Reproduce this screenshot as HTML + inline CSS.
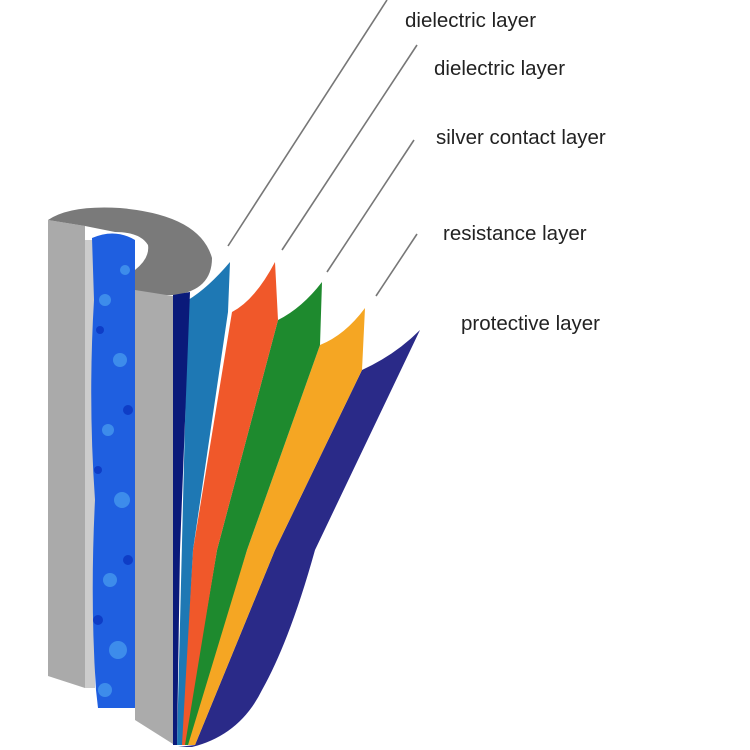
<!DOCTYPE html>
<html><head><meta charset="utf-8"><style>
html,body{margin:0;padding:0;background:#fff;}
svg{display:block}
text{font-family:"Liberation Sans","DejaVu Sans",sans-serif;font-size:20.5px;fill:#222;}
</style></head><body>
<svg width="750" height="750" viewBox="0 0 750 750" xmlns="http://www.w3.org/2000/svg">
<rect width="750" height="750" fill="#fff"/>
<g stroke="#777" stroke-width="1.6" fill="none">
<line x1="228" y1="246" x2="387" y2="0"/>
<line x1="282" y1="250" x2="417" y2="45"/>
<line x1="327" y1="272" x2="414" y2="140"/>
<line x1="376" y1="296" x2="417" y2="234"/>
</g>
<polygon points="48,220 85,226 85,688 48,676" fill="#aaa"/>
<rect x="85" y="240" width="10" height="448" fill="#ccc"/>
<path d="M92,238 Q115,228 135,240 L135,708 L98,708 L96,690 Q90,600 95,500 Q88,400 94,300 Z" fill="#1f5fe0"/>
<g fill="#4aa0f0" opacity="0.7">
<circle cx="105" cy="300" r="6"/><circle cx="120" cy="360" r="7"/><circle cx="108" cy="430" r="6"/>
<circle cx="122" cy="500" r="8"/><circle cx="110" cy="580" r="7"/><circle cx="118" cy="650" r="9"/>
<circle cx="105" cy="690" r="7"/><circle cx="125" cy="270" r="5"/>
</g>
<g fill="#0a35c0" opacity="0.8">
<circle cx="100" cy="330" r="4"/><circle cx="128" cy="410" r="5"/><circle cx="98" cy="470" r="4"/>
<circle cx="128" cy="560" r="5"/><circle cx="98" cy="620" r="5"/>
</g>
<path d="M48,220 Q70,205 120,208 Q200,215 212,258 Q212,290 175,295 L135,295 L135,270 Q150,258 148,245 Q140,232 115,232 L85,226 Z" fill="#7a7a7a"/>
<path d="M362,370 Q395,355 420,330 L315,550 Q290,640 262,690 Q240,735 192,747 L178,747 L195,745 L275,550 Z" fill="#2a2a88"/>
<path d="M320,345 Q345,335 365,308 L362,370 L275,550 L195,745 L186,745 L247,550 Z" fill="#f5a623"/>
<path d="M278,320 Q302,308 322,282 L320,345 L247,550 L188,745 L184,745 L217,550 Z" fill="#1e8a2e"/>
<path d="M232,312 Q255,300 275,262 L278,320 L217,550 L185,745 L181,745 L193,550 Z" fill="#f0582a"/>
<path d="M188,300 Q208,288 230,262 L228,312 L193,550 L182,745 L177,745 Z" fill="#1e78b4"/>
<polygon points="173,295 190,292 180,550 177,745 173,745" fill="#0a1a7a"/>
<polygon points="135,290 173,296 173,744 135,720" fill="#ababab"/>
<text x="405" y="27">dielectric layer</text>
<text x="434" y="75">dielectric layer</text>
<text x="436" y="144">silver contact layer</text>
<text x="443" y="240">resistance layer</text>
<text x="461" y="330">protective layer</text>
</svg>
</body></html>
